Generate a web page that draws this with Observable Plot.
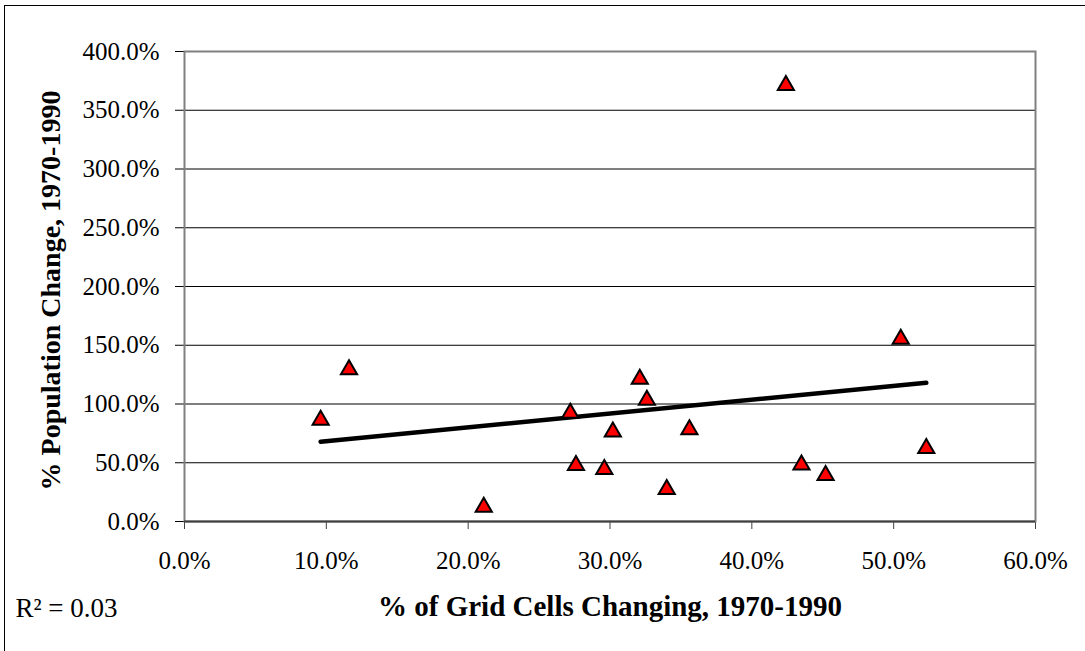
<!DOCTYPE html>
<html>
<head>
<meta charset="utf-8">
<script src="https://cdn.jsdelivr.net/npm/d3@7"></script>
<script src="https://cdn.jsdelivr.net/npm/@observablehq/plot@0.6"></script>
<style>
html, body { margin: 0; padding: 0; background: #fff; overflow: hidden; }
#wrap { position: relative; width: 1085px; height: 651px; overflow: hidden; }
#border { position: absolute; left: 4px; top: 5px; width: 1200px; height: 800px; border: 1.5px solid #000; pointer-events: none; }
</style>
</head>
<body>
<div id="wrap"><div id="chart"></div><div id="border"></div></div>
<script>
// Data (percent values)
const gridCellsChange = [9.6, 11.6, 21.1, 27.2, 27.6, 29.6, 30.2, 32.1, 32.6, 34.0, 35.6, 42.4, 43.5, 45.2, 50.5, 52.3];
const popChange      = [88, 131, 14, 94, 49.5, 46, 78, 123, 105, 29, 80, 373, 50, 41, 157, 64];
const xTicks = [0, 10, 20, 30, 40, 50, 60];
const yTicks = [0, 50, 100, 150, 200, 250, 300, 350, 400];
const xTitle = "% of Grid Cells Changing, 1970-1990";
const yTitle = "% Population Change, 1970-1990";
const r2Label = "R\u00B2 = 0.03";

const data = gridCellsChange.map((x, i) => ({x, y: popChange[i]}));
const pct = d => d.toFixed(1) + "%";
const serif = "'Liberation Serif', 'Times New Roman', Times, serif";

const chart = Plot.plot({
  width: 1085,
  height: 651,
  marginLeft: 184,
  marginRight: 50,
  marginTop: 51,
  marginBottom: 130,
  style: {fontFamily: serif, fontSize: "25px", color: "#000", background: "transparent", overflow: "visible"},
  x: {domain: [0, 60]},
  y: {domain: [0, 400]},
  marks: [
    Plot.gridY(yTicks.filter(d => d > 0 && d < 400), {stroke: "#000", strokeOpacity: 1, strokeWidth: 1}),
    Plot.axisY(yTicks, {tickSize: 9, tickPadding: 16, tickFormat: pct, fontSize: 25, fontFamily: serif, stroke: "#000", label: null}),
    Plot.axisX(xTicks, {tickSize: 8, tickPadding: 22, tickFormat: pct, fontSize: 25, fontFamily: serif, stroke: "#404040", label: null}),
    Plot.frame({stroke: "#808080", strokeWidth: 2}),
    Plot.ruleY([0], {stroke: "#404040", strokeWidth: 2}),
    Plot.linearRegressionY(data, {x: "x", y: "y", ci: 0, stroke: "#000", strokeWidth: 4.5}),
    Plot.dot(data, {x: "x", y: "y", symbol: "triangle", r: 6, fill: "#ff0000", stroke: "#000", strokeWidth: 2, dy: 2}),
    Plot.text([xTitle], {frameAnchor: "bottom", dy: 85, textAnchor: "middle", lineAnchor: "middle", fontSize: 29, fontWeight: "bold", fontFamily: serif, fill: "#000"}),
    Plot.text([yTitle], {frameAnchor: "left", dx: -133, dy: 4, rotate: -90, textAnchor: "middle", lineAnchor: "middle", fontSize: 28, fontWeight: "bold", fontFamily: serif, fill: "#000"}),
    Plot.text([r2Label], {frameAnchor: "bottom-left", dx: -169, dy: 87, textAnchor: "start", lineAnchor: "middle", fontSize: 27, fontFamily: serif, fill: "#000"})
  ]
});
document.getElementById("chart").appendChild(chart);
</script>
</body>
</html>
